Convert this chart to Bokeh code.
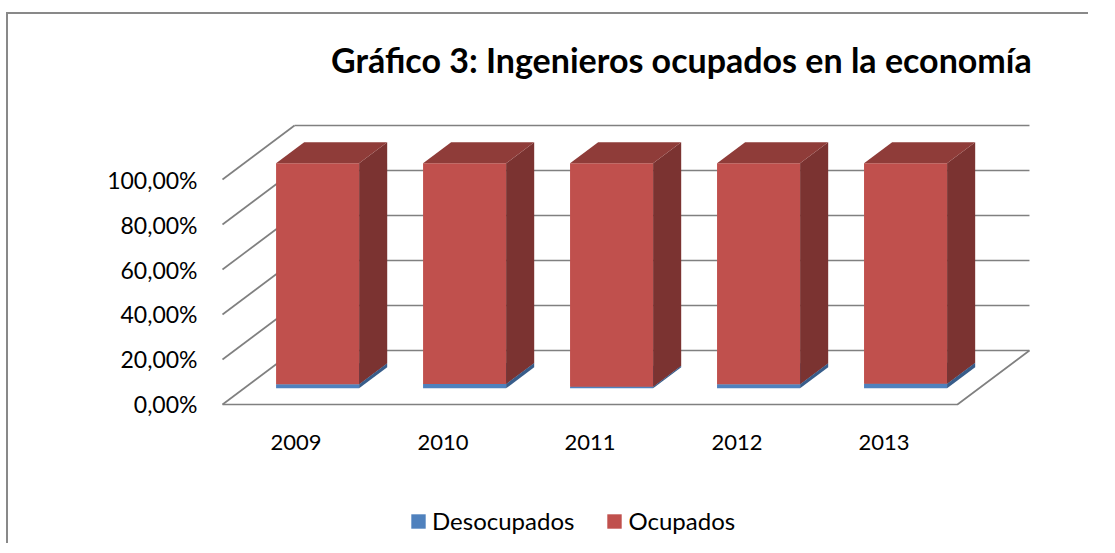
from bokeh.plotting import figure
from bokeh.models import Range1d, FixedTicker, Legend, LegendItem, Label
from bokeh.layouts import column
from bokeh.embed import file_html
from bokeh.resources import INLINE
from bokeh.core.properties import value

# ---------------- data ----------------
years = ["2009", "2010", "2011", "2012", "2013"]
desocupados = [1.8, 1.9, 0.7, 1.8, 2.0]
ocupados = [98.2, 98.1, 99.3, 98.2, 98.0]
y_ticks = [0, 20, 40, 60, 80, 100]
series_names = ["Desocupados", "Ocupados"]
title_text = "Gráfico 3: Ingenieros ocupados en la economía"

# ---------------- 3D projection settings ----------------
DX = 0.49      # depth shift in category units
DY = 24.0      # depth shift in percent units
D_FRONT = 0.30
D_BACK = 0.69
BAR_W = 0.565
N = len(years)

FRONT = {"Desocupados": "#4F81BD", "Ocupados": "#C0504D"}
SIDE = {"Desocupados": "#385D8A", "Ocupados": "#7B3331"}
TOP = {"Desocupados": "#426FA3", "Ocupados": "#8F3C39"}
GRID = "#808080"
FONT = "Lato"


def proj(u, v, d):
    return u + d * DX, v + d * DY


p = figure(frame_width=833, frame_height=525, output_backend="svg", toolbar_location=None,
           x_range=Range1d(-0.102, 5.565), y_range=Range1d(-62.67, 170.67),
           min_border_left=199, min_border_right=50, min_border_top=6,
           min_border_bottom=0)
p.xgrid.visible = False
p.ygrid.visible = False
p.xaxis.visible = False
p.outline_line_color = None
p.background_fill_color = "white"
p.border_fill_color = "white"

# ---------------- title ----------------
p.add_layout(Label(x=3.122, y=153.3, text=title_text, text_align="center",
                   text_baseline="alphabetic", text_font=FONT, text_font_style="bold",
                   text_font_size="34px", text_color="black"))

# ---------------- walls / floor ----------------
xs, ys = [], []
for t in y_ticks:
    x0, y0 = proj(0, t, 0)
    x1, y1 = proj(0, t, 1)
    xs.append([x0, x1]); ys.append([y0, y1])
    x2, y2 = proj(N, t, 1)
    xs.append([x1, x2]); ys.append([y1, y2])
fx0, fy0 = proj(0, 0, 0)
fx1, fy1 = proj(N, 0, 0)
fx2, fy2 = proj(N, 0, 1)
xs.append([fx0, fx1, fx2]); ys.append([fy0, fy1, fy2])
p.multi_line(xs, ys, line_color=GRID, line_width=1.7)

# ---------------- bars ----------------
legend_renderers = {}
stack_vals = {"Desocupados": desocupados, "Ocupados": ocupados}
bottoms = [0.0] * N
for name in series_names:
    vals = stack_vals[name]
    fxs, fys, sxs, sys_, txs, tys = [], [], [], [], [], []
    for i in range(N):
        v0 = bottoms[i]
        v1 = v0 + vals[i]
        c = i + 0.5
        l, r = c - BAR_W / 2, c + BAR_W / 2
        pts = [proj(l, v0, D_FRONT), proj(r, v0, D_FRONT), proj(r, v1, D_FRONT), proj(l, v1, D_FRONT)]
        fxs.append([q[0] for q in pts]); fys.append([q[1] for q in pts])
        pts = [proj(r, v0, D_FRONT), proj(r, v0, D_BACK), proj(r, v1, D_BACK), proj(r, v1, D_FRONT)]
        sxs.append([q[0] for q in pts]); sys_.append([q[1] for q in pts])
        pts = [proj(l, v1, D_FRONT), proj(r, v1, D_FRONT), proj(r, v1, D_BACK), proj(l, v1, D_BACK)]
        txs.append([q[0] for q in pts]); tys.append([q[1] for q in pts])
        bottoms[i] = v1
    rf = p.patches(fxs, fys, fill_color=FRONT[name], line_color=None)
    p.patches(sxs, sys_, fill_color=SIDE[name], line_color=None)
    p.patches(txs, tys, fill_color=TOP[name], line_color=None)
    legend_renderers[name] = rf

# ---------------- category labels (x axis) ----------------
x_ticks = [i + 0.5 for i in range(N)]
p.text(x=x_ticks, y=[-16.9] * N, text=years, text_align="center", text_baseline="middle",
       text_font=value(FONT), text_font_size="22px", text_color="black")

# ---------------- y axis ----------------
p.yaxis.ticker = FixedTicker(ticks=y_ticks)
p.yaxis.major_label_overrides = {t: f"{t:.2f}".replace(".", ",") + "%" for t in y_ticks}
p.yaxis.axis_line_color = None
p.yaxis.major_tick_line_color = None
p.yaxis.minor_tick_line_color = None
p.yaxis.major_label_standoff = 4
p.yaxis.major_label_text_font = FONT
p.yaxis.major_label_text_font_size = "23px"
p.yaxis.major_label_text_color = "black"

# ---------------- legend ----------------
legend = Legend(items=[LegendItem(label=n, renderers=[legend_renderers[n]]) for n in series_names],
                orientation="horizontal", location=(202, 10),
                glyph_width=18, glyph_height=18, label_standoff=5, spacing=31,
                padding=0, margin=0, border_line_color=None, background_fill_alpha=0,
                label_text_font=FONT, label_text_font_size="24px", label_text_color="black")
p.add_layout(legend)

layout = column(p, styles={"box-shadow": "-2px -2px 0 0 #898989",
                           "margin-left": "8px", "margin-top": "14px"})

open("out.html", "w").write(file_html(layout, INLINE))
